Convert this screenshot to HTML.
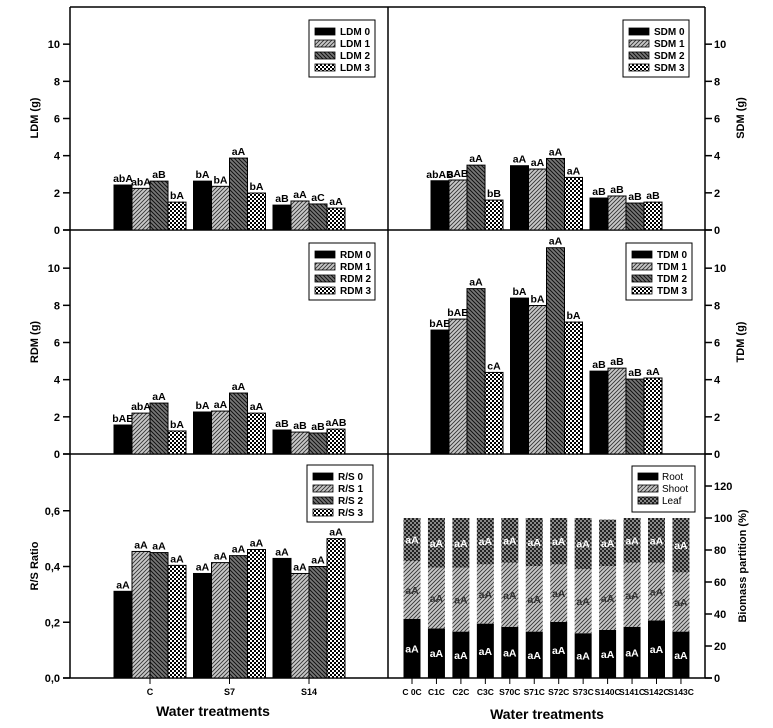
<!DOCTYPE html>
<html><head><meta charset="utf-8">
<style>
body{margin:0;background:#fff;}
svg{display:block;font-family:"Liberation Sans",Arial,sans-serif;}
.tk{font-size:11px;font-weight:bold;fill:#000;}
.vl{font-size:10.5px;font-weight:bold;fill:#000;text-anchor:middle;}
.lg{font-size:10px;font-weight:bold;fill:#000;}
.at{font-size:11px;font-weight:bold;fill:#000;}
</style></head>
<body>
<svg id="chart" width="773" height="728" viewBox="0 0 773 728" xmlns="http://www.w3.org/2000/svg">
<defs>
<pattern id="p1" width="4" height="4" patternUnits="userSpaceOnUse"><rect width="4" height="4" fill="#c8c8c8"/><path d="M0,4 L4,0 M-1,1 L1,-1 M3,5 L5,3" stroke="#333" stroke-width="0.9"/></pattern>
<pattern id="p2" width="4" height="4" patternUnits="userSpaceOnUse"><rect width="4" height="4" fill="#777"/><path d="M0,0 L4,4 M-1,3 L1,5 M3,-1 L5,1" stroke="#111" stroke-width="1"/></pattern>
<pattern id="p3" width="4" height="4" patternUnits="userSpaceOnUse"><rect width="4" height="4" fill="#fff"/><rect width="2" height="2" fill="#000"/><rect x="2" y="2" width="2" height="2" fill="#000"/></pattern>
<pattern id="pL" width="4" height="4" patternUnits="userSpaceOnUse"><rect width="4" height="4" fill="#222"/><rect width="2" height="2" fill="#888"/><rect x="2" y="2" width="2" height="2" fill="#888"/></pattern>
</defs>
<g id="frame" stroke="#000" stroke-width="1.5" fill="none">
<line x1="70" y1="7" x2="705" y2="7"/><line x1="63" y1="230" x2="712" y2="230"/>
<line x1="63" y1="454" x2="712" y2="454"/><line x1="63" y1="678" x2="712" y2="678"/>
<line x1="70" y1="7" x2="70" y2="678"/><line x1="388" y1="7" x2="388" y2="678"/><line x1="705" y1="7" x2="705" y2="678"/>
</g>
<g id="layer"></g>
</svg>
<script>
const groups=["C","S7","S14"];
const ldm=[[2.42,2.24,2.63,1.5],[2.63,2.35,3.87,1.99],[1.34,1.56,1.40,1.18]];
const ldmL=[["abA","abA","aB","bA"],["bA","bA","aA","bA"],["aB","aA","aC","aA"]];
const sdm=[[2.65,2.69,3.49,1.61],[3.46,3.28,3.85,2.83],[1.72,1.83,1.45,1.5]];
const sdmL=[["abAB","aAB","aA","bB"],["aA","aA","aA","aA"],["aB","aB","aB","aB"]];
const rdm=[[1.56,2.2,2.74,1.24],[2.26,2.31,3.28,2.2],[1.29,1.18,1.13,1.34]];
const rdmL=[["bAB","abA","aA","bA"],["bA","aA","aA","aA"],["aB","aB","aB","aAB"]];
const tdm=[[6.67,7.26,8.9,4.39],[8.39,7.99,11.1,7.1],[4.46,4.62,4.03,4.09]];
const tdmL=[["bAB","bAB","aA","cA"],["bA","bA","aA","bA"],["aB","aB","aB","aA"]];
const rs=[[0.311,0.454,0.45,0.404],[0.375,0.414,0.439,0.461],[0.429,0.375,0.4,0.50]];
const rsL=[["aA","aA","aA","aA"],["aA","aA","aA","aA"],["aA","aA","aA","aA"]];
const tickG=[0,2,4,6,8,10];
const tickR=[0,0.2,0.4,0.6];
const tickRL=["0,0","0,2","0,4","0,6"];
const tickP=[0,20,40,60,80,100,120];
const stackCats=["C 0C","C1C","C2C","C3C","S70C","S71C","S72C","S73C","S140C","S141C","S142C","S143C"];
const rootP=[37,31,29,34,32,29,35,28,30,32,36,29];
const shootTop=[73,69,69,71,72,70,71,68,70,72,72,66];
const leafTop=[100,100,100,100,100,100,100,100,99,100,100,100];
const fills=["#000","url(#p1)","url(#p2)","url(#p3)"];
const NS="http://www.w3.org/2000/svg";
const layer=document.getElementById('layer');
function mk(tag,attrs,txt){const e=document.createElementNS(NS,tag);for(const k in attrs)e.setAttribute(k,attrs[k]);if(txt!==undefined)e.textContent=txt;layer.appendChild(e);return e;}
function yScale(y0,ymax,h){return v=>y0-v/ymax*h;}
function panel(name,data,labels,x0,y0,ymax,ticks,tickLab,side,title,legendNames,lx,ly){
  const ys=yScale(y0,ymax,223);
  const xc=i=>x0+79.5*i;
  data.forEach((g,i)=>g.forEach((v,j)=>{
    const x=xc(i)+(j-2)*18, y=ys(v);
    const r=mk('rect',{x:x,y:y,width:18,height:y0-y,fill:fills[j],stroke:'#000','stroke-width':1});
    
    
    const t=mk('text',{x:x+9,y:y-3,class:'vl'},labels[i][j]);
    
    
  }));
  ticks.forEach((v,k)=>{
    const y=ys(v);
    const ax=side==='L'?70:705, d=side==='L'?-7:7;
    const l=mk('line',{x1:ax,y1:y,x2:ax+d,y2:y,stroke:'#000','stroke-width':1.5});
    
    
    const t=mk('text',{x:side==='L'?60:714,y:y+4,class:'tk','text-anchor':side==='L'?'end':'start'},tickLab?tickLab[k]:String(v));
    
    
  });
  const tx=side==='L'?38:744, ty=y0-112;
  const at=mk('text',{x:tx,y:ty,class:'at','text-anchor':'middle',transform:`rotate(-90 ${tx} ${ty})`},title);
  
  
  const lb=mk('rect',{x:lx,y:ly,width:66,height:57,fill:'#fff',stroke:'#000','stroke-width':1});
  
  
  legendNames.forEach((n,j)=>{
    const s=mk('rect',{x:lx+6,y:ly+8+j*12,width:20,height:7,fill:fills[j],stroke:'#000','stroke-width':0.8});
    
    
    const t=mk('text',{x:lx+31,y:ly+15+j*12,class:'lg'},n);
    
    
  });
}
panel('ldm',ldm,ldmL,150,230,12,tickG,null,'L','LDM (g)',["LDM 0","LDM 1","LDM 2","LDM 3"],309,20);
panel('sdm',sdm,sdmL,467,230,12,tickG,null,'R','SDM (g)',["SDM 0","SDM 1","SDM 2","SDM 3"],623,20);
panel('rdm',rdm,rdmL,150,454,12,tickG,null,'L','RDM (g)',["RDM 0","RDM 1","RDM 2","RDM 3"],309,243);
panel('tdm',tdm,tdmL,467,454,12,tickG,null,'R','TDM (g)',["TDM 0","TDM 1","TDM 2","TDM 3"],626,243);
panel('rs',rs,rsL,150,678,0.8,tickR,tickRL,'L','R/S Ratio',["R/S 0","R/S 1","R/S 2","R/S 3"],307,465);
groups.forEach((g,i)=>{
  const x=150+79.5*i;
  const l=mk('line',{x1:x,y1:678,x2:x,y2:684,stroke:'#000','stroke-width':1});
  
  
  const t=mk('text',{x:x,y:695,'font-size':9,'font-weight':'bold','text-anchor':'middle'},g);
  
  
});
const ysP=yScale(678,140,224);
const xs=i=>412+24.45*i;
stackCats.forEach((c,i)=>{
  const x=xs(i)-8.5;
  const segs=[[0,rootP[i],'#000'],[rootP[i],shootTop[i],'url(#p1)'],[shootTop[i],leafTop[i],'url(#pL)']];
  segs.forEach((s,k)=>{
    const r=mk('rect',{x:x,y:ysP(s[1]),width:17,height:ysP(s[0])-ysP(s[1]),fill:s[2]});
    
    
    const t=mk('text',{x:xs(i),y:(ysP(s[0])+ysP(s[1]))/2+4,class:'vl',style:'fill:'+(k===1?'#333':'#fff')},'aA');
    
    
  });
  const l=mk('line',{x1:xs(i),y1:678,x2:xs(i),y2:684,stroke:'#000','stroke-width':1});
  
  
  const t=mk('text',{x:xs(i),y:695,'font-size':8.5,'font-weight':'bold','text-anchor':'middle'},c);
  
  
});
tickP.forEach(v=>{
  const y=ysP(v);
  const l=mk('line',{x1:705,y1:y,x2:712,y2:y,stroke:'#000','stroke-width':1.5});
  
  
  const t=mk('text',{x:714,y:y+4,class:'tk'},String(v));
  
  
});
const pt=mk('text',{x:746,y:566,class:'at','text-anchor':'middle',transform:'rotate(-90 746 566)'},'Biomass partition (%)');


const plb=mk('rect',{x:632,y:466,width:63,height:46,fill:'#fff',stroke:'#000','stroke-width':1});


["Root","Shoot","Leaf"].forEach((n,j)=>{
  const s=mk('rect',{x:638,y:473+j*12,width:20,height:7,fill:['#000','url(#p1)','url(#pL)'][j],stroke:'#000','stroke-width':0.8});
  
  
  const t=mk('text',{x:662,y:480+j*12,'font-size':10,fill:'#000'},n);
  
  
});
const x1=mk('text',{x:213,y:716,'font-size':14,'font-weight':'bold','text-anchor':'middle'},'Water treatments');


const x2=mk('text',{x:547,y:719,'font-size':14,'font-weight':'bold','text-anchor':'middle'},'Water treatments');


</script>
</body></html>
